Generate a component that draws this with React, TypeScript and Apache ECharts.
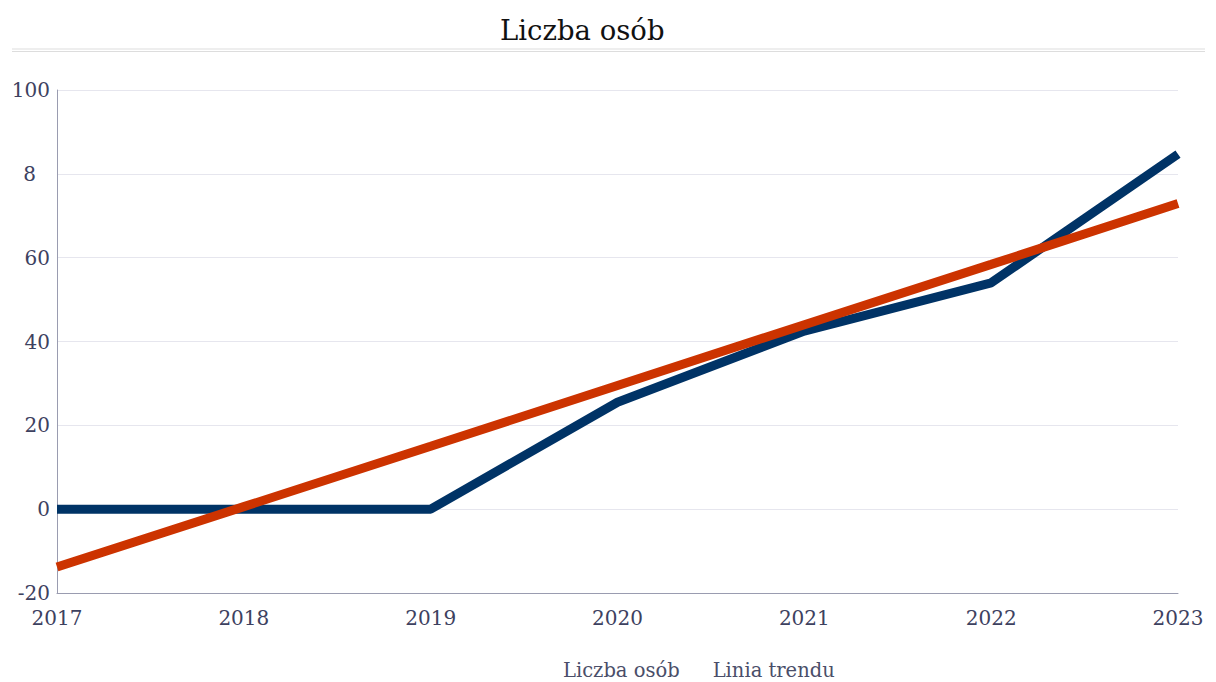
import React, { useEffect, useRef } from "react";
import * as echarts from "echarts";

const categories = ["2017", "2018", "2019", "2020", "2021", "2022", "2023"];
const liczbaOsob = [0, 0, 0, 25.5, 42.5, 54, 84.7];
const liniaTrendu = [-13.8, 0.6, 15.0, 29.5, 44.0, 58.4, 72.9];
const yTicks = [-20, 0, 20, 40, 60, 80, 100];

const FONT = "DejaVu Serif, Georgia, serif";

export default function App() {
  const ref = useRef<HTMLDivElement>(null);
  useEffect(() => {
    document.body.style.margin = "0";
    const chart = echarts.init(ref.current!, null, { renderer: "svg" });
    chart.setOption({
      animation: false,
      textStyle: { fontFamily: FONT },
      title: {
        text: "Liczba osób",
        left: 495,
        top: 11,
        textStyle: { fontFamily: FONT, fontSize: 27.5, fontWeight: "normal", color: "#111111" },
      },
      graphic: [
        { type: "line", shape: { x1: 12, y1: 49, x2: 1205, y2: 49 }, style: { stroke: "#dddddd", lineWidth: 1 } },
        { type: "line", shape: { x1: 12, y1: 51.5, x2: 1205, y2: 51.5 }, style: { stroke: "#dddddd", lineWidth: 1 } },
      ],
      legend: {
        bottom: -3,
        left: 553,
        icon: "none",
        itemWidth: 0,
        itemGap: 28,
        data: ["Liczba osób", "Linia trendu"],
        textStyle: { fontFamily: FONT, fontSize: 19.5, color: "#4a4e69" },
      },
      grid: { left: 57, right: 38, top: 90, bottom: 89, containLabel: false },
      xAxis: {
        type: "category",
        data: categories,
        boundaryGap: false,
        axisLine: { show: true, onZero: false, lineStyle: { color: "#9a9cb0", width: 1 } },
        axisTick: { show: false },
        axisLabel: { fontFamily: FONT, fontSize: 20, color: "#3d4160", margin: 15 },
        splitLine: { show: false },
      },
      yAxis: {
        type: "value",
        min: yTicks[0],
        max: yTicks[yTicks.length - 1],
        interval: 20,
        axisLine: { show: true, lineStyle: { color: "#9a9cb0", width: 1 } },
        axisTick: { show: false },
        splitLine: { lineStyle: { color: "#e6e6ee", width: 1 } },
        axisLabel: {
          fontFamily: FONT,
          fontSize: 20,
          color: "#3d4160",
          margin: 7,
          formatter: (v: number) => (v === 80 ? "{e|8}" : String(v)),
          rich: {
            e: { fontFamily: FONT, fontSize: 20, color: "#3d4160", padding: [0, 14, 0, 0] },
          },
        },
      },
      series: [
        {
          name: "Liczba osób",
          type: "line",
          data: liczbaOsob,
          symbol: "none",
          lineStyle: { color: "#003366", width: 9 },
          itemStyle: { color: "#003366" },
        },
        {
          name: "Linia trendu",
          type: "line",
          data: liniaTrendu,
          symbol: "none",
          lineStyle: { color: "#cc3300", width: 9 },
          itemStyle: { color: "#cc3300" },
          z: 3,
        },
      ],
    });
    return () => chart.dispose();
  }, []);
  return <div ref={ref} style={{ width: 1216, height: 682 }} />;
}
